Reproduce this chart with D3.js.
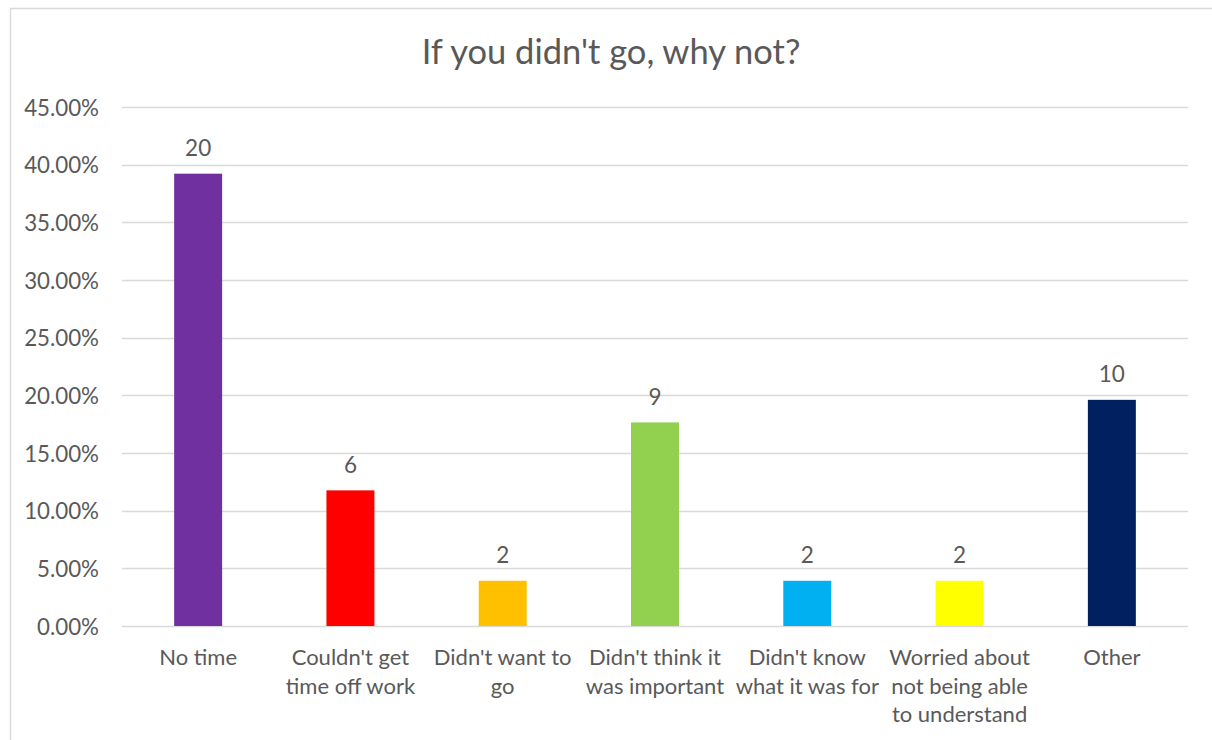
<!DOCTYPE html>
<html>
<head>
<meta charset="utf-8">
<script src="https://cdn.jsdelivr.net/npm/d3@7"></script>
<style>
  html, body { margin: 0; padding: 0; background: #fff; }
  svg { display: block; }
  text { font-family: Lato, "Open Sans", sans-serif; fill: #595959; }
</style>
</head>
<body>
<svg id="chart" width="1212" height="740"></svg>
<script>
const title = "If you didn't go, why not?";
const categories = [
  "No time",
  "Couldn't get\ntime off work",
  "Didn't want to\ngo",
  "Didn't think it\nwas important",
  "Didn't know\nwhat it was for",
  "Worried about\nnot being able\nto understand",
  "Other"
];
const shares = [0.3922, 0.1176, 0.0392, 0.1765, 0.0392, 0.0392, 0.1961];
const counts = [20, 6, 2, 9, 2, 2, 10];
const colors = ["#7030A0", "#FF0000", "#FFC000", "#92D050", "#00B0F0", "#FFFF00", "#002060"];
const yTicks = [0, 0.05, 0.10, 0.15, 0.20, 0.25, 0.30, 0.35, 0.40, 0.45];

const svg = d3.select("#chart");

// outer chart border (top and left visible)
svg.append("path")
  .attr("d", "M10.5,740 L10.5,8.5 L1212,8.5")
  .attr("fill", "none")
  .attr("stroke", "#D9D9D9")
  .attr("stroke-width", 1.3);

const plot = { left: 122, right: 1188, top: 107, bottom: 626 };

const x = d3.scaleBand()
  .domain(categories)
  .range([plot.left, plot.right])
  .paddingInner(0.685)
  .paddingOuter(0.3425);

const y = d3.scaleLinear()
  .domain([0, 0.45])
  .range([plot.bottom, plot.top]);

// gridlines
svg.append("g")
  .selectAll("line")
  .data(yTicks)
  .join("line")
  .attr("x1", plot.left)
  .attr("x2", plot.right)
  .attr("y1", d => Math.round(y(d)) + 0.5)
  .attr("y2", d => Math.round(y(d)) + 0.5)
  .attr("stroke", "#D9D9D9")
  .attr("stroke-width", 1.4);

// y axis labels
const yAxis = d3.axisLeft(y)
  .tickValues(yTicks)
  .tickFormat(d3.format(".2%"))
  .tickSize(0)
  .tickPadding(0);
const yg = svg.append("g")
  .attr("transform", `translate(99,0)`)
  .call(yAxis);
yg.select(".domain").remove();
yg.selectAll("text")
  .attr("font-family", "Lato, 'Open Sans', sans-serif")
  .attr("font-size", 22.3)
  .attr("fill", "#595959")
  .attr("dy", "0.36em");

// bars
svg.append("g")
  .selectAll("rect")
  .data(categories)
  .join("rect")
  .attr("x", d => x(d))
  .attr("width", x.bandwidth())
  .attr("y", (d, i) => y(shares[i]))
  .attr("height", (d, i) => y(0) - y(shares[i]))
  .attr("fill", (d, i) => colors[i]);

// data labels
svg.append("g")
  .selectAll("text")
  .data(categories)
  .join("text")
  .attr("x", d => x(d) + x.bandwidth() / 2)
  .attr("y", (d, i) => y(shares[i]) - 17.5)
  .attr("text-anchor", "middle")
  .attr("font-size", 22.5)
  .text((d, i) => counts[i]);

// category labels
const xg = svg.append("g");
categories.forEach(c => {
  const t = xg.append("text")
    .attr("text-anchor", "middle")
    .attr("font-size", 22)
    .attr("x", x(c) + x.bandwidth() / 2)
    .attr("y", 665);
  c.split("\n").forEach((line, j) => {
    t.append("tspan")
      .attr("x", x(c) + x.bandwidth() / 2)
      .attr("y", 665 + j * 28.5)
      .text(line);
  });
});

// title
svg.append("text")
  .attr("x", 611)
  .attr("y", 64)
  .attr("text-anchor", "middle")
  .attr("font-size", 34.5)
  .text(title);
</script>
</body>
</html>
